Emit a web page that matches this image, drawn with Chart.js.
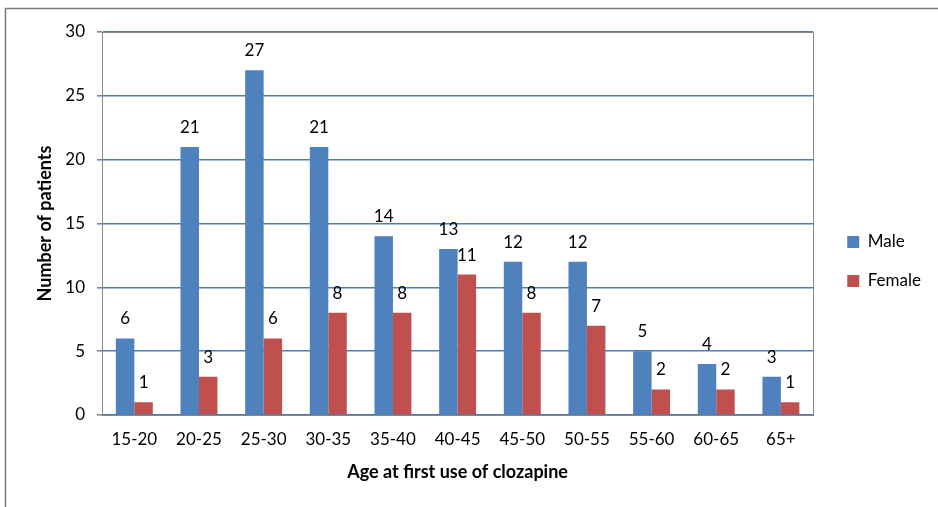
<!DOCTYPE html>
<html>
<head>
<meta charset="utf-8">
<script src="https://cdn.jsdelivr.net/npm/chart.js@4/dist/chart.umd.min.js"></script>
<style>
  html, body { margin: 0; padding: 0; background: #fff; }
  #wrap { width: 938px; height: 507px; position: relative; }
</style>
</head>
<body>
<div id="wrap"><canvas id="chart"></canvas></div>
<script>
// Age groups at first clozapine use
const ageGroups = ['15-20', '20-25', '25-30', '30-35', '35-40', '40-45', '45-50', '50-55', '55-60', '60-65', '65+'];
// Patient counts per group
const maleCounts = [6, 21, 27, 21, 14, 13, 12, 12, 5, 4, 3];
const femaleCounts = [1, 3, 6, 8, 8, 11, 8, 7, 2, 2, 1];
// Y axis ticks
const yTicks = [0, 5, 10, 15, 20, 25, 30];

const FONT = 'Lato, "Open Sans", sans-serif';
const AXIS_GREY = '#868686';

// Outer frame and plot-area border
const framePlugin = {
  id: 'frame',
  beforeDraw(chart) {
    const ctx = chart.ctx;
    ctx.save();
    ctx.strokeStyle = '#7a7a7a';
    ctx.lineWidth = 1.5;
    ctx.beginPath();
    ctx.moveTo(5.5, chart.height);
    ctx.lineTo(5.5, 8.5);
    ctx.lineTo(chart.width, 8.5);
    ctx.stroke();
    ctx.restore();
  },
  afterDraw(chart) {
    const {ctx, chartArea: a} = chart;
    ctx.save();
    ctx.strokeStyle = AXIS_GREY;
    ctx.lineWidth = 1;
    ctx.beginPath();
    ctx.moveTo(Math.round(a.left) + 0.5, Math.round(a.top) + 0.5);
    ctx.lineTo(Math.round(a.right) + 0.5, Math.round(a.top) + 0.5);
    ctx.lineTo(Math.round(a.right) + 0.5, Math.round(a.bottom) + 0.5);
    ctx.stroke();
    ctx.restore();
  }
};

// Value labels above every bar
const valueLabels = {
  id: 'valueLabels',
  afterDatasetsDraw(chart) {
    const ctx = chart.ctx;
    ctx.save();
    ctx.font = '17px ' + FONT;
    ctx.fillStyle = '#000';
    ctx.textAlign = 'center';
    ctx.textBaseline = 'alphabetic';
    chart.data.datasets.forEach((ds, i) => {
      const meta = chart.getDatasetMeta(i);
      meta.data.forEach((bar, j) => {
        ctx.fillText(String(ds.data[j]), bar.x, bar.y - 14);
      });
    });
    ctx.restore();
  }
};

// Nudge the legend block toward its usual spot right of the plot
const legendNudge = {
  id: 'legendNudge',
  afterLayout(chart) {
    const lg = chart.legend;
    if (!lg) return;
    lg.left += 12; lg.right += 12;
    lg.top -= 8; lg.bottom -= 8;
  }
};

new Chart(document.getElementById('chart'), {
  type: 'bar',
  data: {
    labels: ageGroups,
    datasets: [
      { label: 'Male', data: maleCounts, backgroundColor: '#4F81BD' },
      { label: 'Female', data: femaleCounts, backgroundColor: '#C0504D' }
    ]
  },
  options: {
    responsive: true,
    maintainAspectRatio: false,
    animation: false,
    devicePixelRatio: 1,
    layout: { padding: { top: 32, right: 19, bottom: 0, left: 0 } },
    datasets: {
      bar: { categoryPercentage: 2 / 3.5, barPercentage: 1.0 }
    },
    plugins: {
      legend: {
        position: 'right',
        labels: {
          font: { family: FONT, size: 17 },
          color: '#000',
          boxWidth: 12,
          boxHeight: 12,
          padding: 22
        }
      },
      tooltip: { enabled: false }
    },
    scales: {
      x: {
        grid: { display: false, drawTicks: false },
        border: { display: true, color: AXIS_GREY, width: 1 },
        ticks: { font: { family: FONT, size: 17 }, color: '#000', padding: 14, maxRotation: 0 },
        title: {
          display: true,
          text: 'Age at first use of clozapine',
          font: { family: FONT, size: 18, weight: 'bold' },
          color: '#000',
          padding: { top: 0, bottom: 24 }
        },
        afterFit(scale) { scale.height = 92; }
      },
      y: {
        min: 0,
        max: 30,
        afterBuildTicks(scale) { scale.ticks = yTicks.map(v => ({ value: v })); },
        grid: { color: '#4A7EBB', lineWidth: 1.6, tickLength: 5, tickColor: AXIS_GREY, drawTicks: true },
        border: { display: true, color: AXIS_GREY, width: 1 },
        ticks: { font: { family: FONT, size: 17 }, color: '#000', padding: 12 },
        title: {
          display: true,
          text: 'Number of patients',
          font: { family: FONT, size: 18, weight: 'bold' },
          color: '#000',
          padding: { top: 34, bottom: 0 }
        },
        afterFit(scale) { scale.width = 102; }
      }
    }
  },
  plugins: [framePlugin, valueLabels, legendNudge]
});
</script>
</body>
</html>
